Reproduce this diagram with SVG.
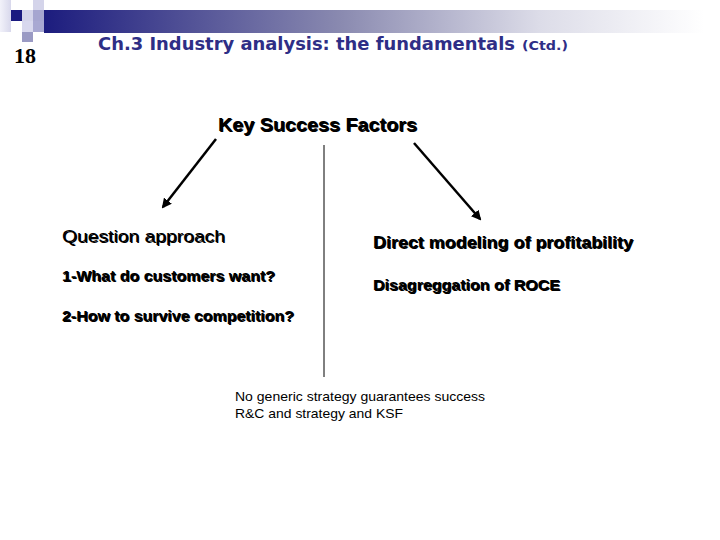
<svg xmlns="http://www.w3.org/2000/svg" width="720" height="540" viewBox="0 0 720 540">
<defs>
<linearGradient id="bar" x1="0" y1="0" x2="1" y2="0">
<stop offset="0" stop-color="#1c1c7e"/>
<stop offset="0.45" stop-color="#8a8ab0"/>
<stop offset="0.75" stop-color="#dcdce8"/>
<stop offset="1" stop-color="#ffffff"/>
</linearGradient>
<linearGradient id="lt" x1="0" y1="0" x2="1" y2="0">
<stop offset="0" stop-color="#f2f2fa"/>
<stop offset="1" stop-color="#d8d8ec"/>
</linearGradient>
<marker id="ah" markerWidth="10" markerHeight="10" refX="8" refY="5" orient="auto" markerUnits="userSpaceOnUse">
<path d="M0,0 L10,5 L0,10 Z" fill="#000"/>
</marker>
<style>
.ttl{font-family:"DejaVu Sans",Verdana,sans-serif;font-weight:bold;fill:#2e2e86}
.sh{fill:#b8b8b8}
.t{font-family:"Liberation Sans",Arial,sans-serif;fill:#000}
.b{font-weight:bold}
.ln{stroke:#000;fill:none}
</style>
</defs>
<g id="header">
<rect x="0" y="0" width="11" height="32" fill="url(#lt)"/>
<rect x="11" y="10" width="11" height="11" fill="#1a1a80"/>
<rect x="22" y="10" width="11" height="11" fill="#d4d4ea"/>
<rect x="33" y="0" width="11" height="10" fill="#d4d4ea"/>
<rect x="33" y="10" width="11" height="11" fill="#a6a6d0"/>
<rect x="22" y="21" width="11" height="11" fill="#d8d8ee"/>
<rect x="33" y="21" width="11" height="11" fill="#a8a8d2"/>
<rect x="22" y="32" width="11" height="10" fill="#9a9ac4"/>
<rect x="44" y="10" width="660" height="23" fill="url(#bar)"/>
<text x="14" y="63" font-family="Liberation Serif,serif" font-weight="bold" font-size="22" fill="#000">18</text>
<text class="ttl" x="98" y="50" font-size="17" textLength="417" lengthAdjust="spacingAndGlyphs">Ch.3 Industry analysis: the fundamentals</text>
<text class="ttl" x="522" y="50" font-size="12" textLength="46" lengthAdjust="spacingAndGlyphs">(Ctd.)</text>
</g>
<g id="ksf">
<text class="t b sh" x="219" y="132" font-size="18.5" textLength="199" lengthAdjust="spacingAndGlyphs">Key Success Factors</text>
<text class="t b" x="218" y="131" font-size="18.5" textLength="199" lengthAdjust="spacingAndGlyphs">Key Success Factors</text>
</g>
<g id="connectors">
<line class="ln" x1="216" y1="139" x2="163" y2="207" stroke-width="2.5" marker-end="url(#ah)"/>
<line class="ln" x1="414" y1="143" x2="480" y2="219" stroke-width="2.5" marker-end="url(#ah)"/>
<line class="ln" x1="324" y1="145" x2="324" y2="377" stroke-width="1"/>
</g>
<g id="left">
<text class="t sh" x="63" y="243" font-size="17" textLength="163" lengthAdjust="spacingAndGlyphs">Question approach</text>
<text class="t" x="62" y="242" font-size="17" textLength="163" lengthAdjust="spacingAndGlyphs">Question approach</text>
<text class="t b sh" x="63" y="282" font-size="14" textLength="213" lengthAdjust="spacingAndGlyphs">1-What do customers want?</text>
<text class="t b" x="62" y="281" font-size="14" textLength="213" lengthAdjust="spacingAndGlyphs">1-What do customers want?</text>
<text class="t b sh" x="63" y="322" font-size="14" textLength="232" lengthAdjust="spacingAndGlyphs">2-How to survive competition?</text>
<text class="t b" x="62" y="321" font-size="14" textLength="232" lengthAdjust="spacingAndGlyphs">2-How to survive competition?</text>
</g>
<g id="right">
<text class="t b sh" x="374" y="249" font-size="16" textLength="260" lengthAdjust="spacingAndGlyphs">Direct modeling of profitability</text>
<text class="t b" x="373" y="248" font-size="16" textLength="260" lengthAdjust="spacingAndGlyphs">Direct modeling of profitability</text>
<text class="t b sh" x="374" y="291" font-size="14" textLength="187" lengthAdjust="spacingAndGlyphs">Disagreggation of ROCE</text>
<text class="t b" x="373" y="290" font-size="14" textLength="187" lengthAdjust="spacingAndGlyphs">Disagreggation of ROCE</text>
</g>
<g id="bottom">
<text class="t" x="235" y="401" font-size="13.5" textLength="250" lengthAdjust="spacingAndGlyphs">No generic strategy guarantees success</text>
<text class="t" x="235" y="418" font-size="13.5" textLength="168" lengthAdjust="spacingAndGlyphs">R&amp;C and strategy and KSF</text>
</g>
</svg>
